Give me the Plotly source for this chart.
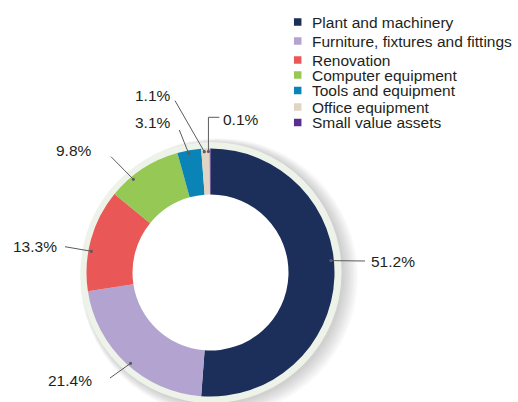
import math
import plotly.graph_objects as go

# ---------------- data ----------------
categories = ["Plant and machinery", "Furniture, fixtures and fittings", "Renovation",
              "Computer equipment", "Tools and equipment", "Office equipment",
              "Small value assets"]
shares = [51.2, 21.4, 13.3, 9.8, 3.1, 1.1, 0.1]
label_texts = ["51.2%", "21.4%", "13.3%", "9.8%", "3.1%", "1.1%", "0.1%"]

# ---------------- style / layout ----------------
colors = ["#1c2e5a", "#b3a3d0", "#ea5757", "#96c856", "#0a83b6", "#e0d5c5", "#5b2d8e"]
W, H = 518, 402
CX, CY, R_OUT, R_IN = 210.5, 272.5, 124.0, 78.0
R_DOT = 121.0
FONT = "Liberation Sans, Arial, sans-serif"
TXT = "#231f20"
LINE = "#5a5b5e"

# per-label placement: angle nudge (deg), leader end point, text anchor point, xanchor, elbow
label_layout = [
    dict(nudge=-7.8, end=(365, 261), txt=(369, 261.5), xa="left"),
    dict(nudge=-1.5, end=(110, 378), txt=(94, 380), xa="right"),
    dict(nudge=-5.2, end=(65, 246.7), txt=(59, 246), xa="right"),
    dict(nudge=-6.5, end=(111, 156.7), txt=(94, 150.5), xa="right"),
    dict(nudge=-0.5, end=(179.3, 130), txt=(173, 122.5), xa="right"),
    dict(nudge=-0.6, end=(175, 100.7), txt=(173, 95), xa="right"),
    dict(nudge=-0.8, end=(219.3, 117.3), txt=(220.5, 119), xa="left", elbow=True),
]

# legend row positions (pixels from top)
LEG_X = 297.7
leg_rows = [22, 41, 60, 75, 90.5, 107, 122.5]

fig = go.Figure()

# donut
fig.add_trace(go.Pie(
    labels=categories, values=shares, sort=False, direction="clockwise", rotation=0,
    hole=R_IN / R_OUT, marker=dict(colors=colors, line=dict(width=0)),
    textinfo="none", hoverinfo="skip", showlegend=False,
    domain=dict(x=[(CX - R_OUT) / W, (CX + R_OUT) / W],
                y=[(H - CY - R_OUT) / H, (H - CY + R_OUT) / H]),
))

shapes = []
# soft shadow + light outer ring behind the donut
for k in range(7):
    r = 131 + k * 1.3
    ox, oy = 2.5 + k * 0.9, 1.5 + k * 0.5
    shapes.append(dict(type="circle", xref="x", yref="y", layer="below",
                       x0=CX + 0.5 + ox - r, x1=CX + 0.5 + ox + r,
                       y0=CY + oy - r, y1=CY + oy + r,
                       fillcolor="rgba(60,60,60,0.035)", line=dict(width=0)))
shapes.append(dict(type="circle", xref="x", yref="y", layer="below",
                   x0=CX + 0.5 - 130.5, x1=CX + 0.5 + 130.5, y0=CY - 130.5, y1=CY + 130.5,
                   fillcolor="#eef3e9", line=dict(width=0)))
# white centre seen through the hole
shapes.append(dict(type="circle", xref="x", yref="y", layer="below",
                   x0=CX - R_IN - 1, x1=CX + R_IN + 1, y0=CY - R_IN - 1, y1=CY + R_IN + 1,
                   fillcolor="white", line=dict(width=0)))

annotations = []
cum = 0.0
for val, txt, lay in zip(shares, label_texts, label_layout):
    mid = (cum + val / 2.0) / sum(shares) * 360.0 + lay["nudge"]
    cum += val
    a = math.radians(mid)
    dx, dy = CX + R_DOT * math.sin(a), CY - R_DOT * math.cos(a)
    ex, ey = lay["end"]
    if lay.get("elbow"):
        path = f"M {dx},{dy} L {dx},{ey} L {ex},{ey}"
    else:
        path = f"M {dx},{dy} L {ex},{ey}"
    shapes.append(dict(type="path", xref="x", yref="y", layer="above", path=path,
                       line=dict(color=LINE, width=1)))
    shapes.append(dict(type="circle", xref="x", yref="y", layer="above",
                       x0=dx - 1.6, x1=dx + 1.6, y0=dy - 1.6, y1=dy + 1.6,
                       fillcolor=LINE, line=dict(width=0)))
    tx, ty = lay["txt"]
    annotations.append(dict(x=tx, y=ty, xref="x", yref="y", text=txt, showarrow=False,
                            xanchor=lay["xa"], yanchor="middle",
                            font=dict(family=FONT, size=15.5, color=TXT)))

# custom legend
fig.add_trace(go.Scatter(
    x=[LEG_X] * len(categories), y=leg_rows, mode="markers",
    marker=dict(symbol="square", size=7.5, color=colors, line=dict(width=0)),
    hoverinfo="skip", showlegend=False, cliponaxis=False,
))
for name, y in zip(categories, leg_rows):
    annotations.append(dict(x=LEG_X + 12, y=y, xref="x", yref="y", text=name,
                            showarrow=False, xanchor="left", yanchor="middle",
                            font=dict(family=FONT, size=15.5, color=TXT)))

fig.update_layout(
    width=W, height=H, margin=dict(l=0, r=0, t=0, b=0),
    paper_bgcolor="white", plot_bgcolor="rgba(0,0,0,0)",
    xaxis=dict(range=[0, W], domain=[0, 1], visible=False, fixedrange=True),
    yaxis=dict(range=[H, 0], domain=[0, 1], visible=False, fixedrange=True),
    shapes=shapes, annotations=annotations, showlegend=False,
)

fig.write_html("out.html", config={"displayModeBar": False, "staticPlot": True},
               post_script="document.body.style.margin='0';document.body.style.padding='0';")
